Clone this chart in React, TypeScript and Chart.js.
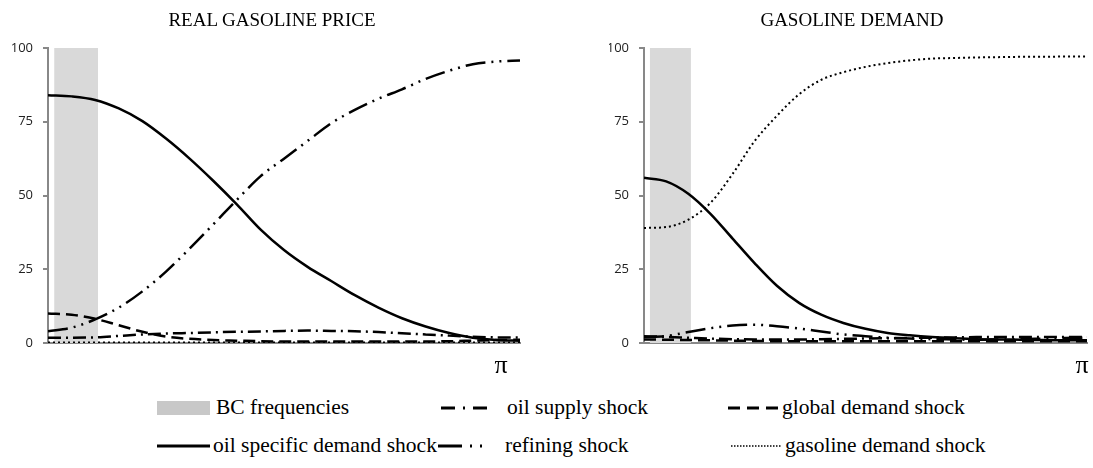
import React, { useEffect, useRef } from "react";
import { Chart, registerables } from "chart.js";

Chart.register(...registerables);

// x positions as fractions of pi (0 .. pi)
const FREQ = [0, 0.05, 0.1, 0.15, 0.2, 0.25, 0.3, 0.35, 0.4, 0.45, 0.5, 0.55, 0.6, 0.65, 0.7, 0.75, 0.8, 0.85, 0.9, 0.95, 1.0];
const BC_BAND = [0.013, 0.106];
const Y_TICKS = [0, 25, 50, 75, 100];

const TITLE_LEFT = "REAL GASOLINE PRICE";
const TITLE_RIGHT = "GASOLINE DEMAND";

// REAL GASOLINE PRICE
const priceOilSupply = [1.8, 1.8, 1.9, 2.4, 2.9, 3.2, 3.4, 3.6, 3.8, 3.9, 4.1, 4.2, 4.1, 4.0, 3.7, 3.3, 2.9, 2.5, 2.1, 1.9, 1.9];
const priceGlobalDemand = [10.0, 9.6, 8.2, 6.0, 3.8, 2.2, 1.4, 1.0, 0.8, 0.6, 0.5, 0.5, 0.5, 0.5, 0.5, 0.5, 0.5, 0.6, 0.8, 1.0, 1.1];
const priceOilSpecific = [84.0, 83.6, 82.4, 79.5, 75.2, 69.3, 62.5, 55.0, 47.0, 38.5, 31.5, 25.8, 21.0, 16.2, 12.0, 8.4, 5.6, 3.4, 1.8, 1.0, 0.8];
const priceRefining = [4.0, 5.2, 8.0, 12.0, 17.5, 24.2, 32.0, 40.2, 48.5, 56.5, 62.5, 68.5, 74.5, 79.0, 82.8, 86.0, 89.5, 92.3, 94.5, 95.4, 95.8];
const priceGasolineDemand = [0.2, 0.2, 0.2, 0.2, 0.2, 0.2, 0.2, 0.2, 0.2, 0.2, 0.2, 0.2, 0.2, 0.2, 0.2, 0.2, 0.2, 0.2, 0.2, 0.2, 0.2];

// GASOLINE DEMAND
const demandOilSupply = [2.3, 2.1, 1.8, 1.5, 1.3, 1.2, 1.2, 1.2, 1.3, 1.4, 1.5, 1.6, 1.7, 1.8, 1.9, 2.0, 2.0, 2.0, 2.0, 2.0, 2.0];
const demandGlobalDemand = [1.2, 1.1, 1.0, 0.9, 0.8, 0.7, 0.6, 0.6, 0.6, 0.6, 0.6, 0.6, 0.6, 0.6, 0.6, 0.6, 0.6, 0.6, 0.6, 0.6, 0.6];
const demandOilSpecific = [56.0, 54.8, 50.6, 43.8, 35.4, 27.0, 19.4, 13.6, 9.6, 6.8, 4.8, 3.4, 2.6, 2.0, 1.6, 1.3, 1.2, 1.1, 1.0, 0.9, 0.9];
const demandRefining = [2.0, 2.4, 3.7, 5.0, 5.9, 6.2, 5.7, 4.9, 3.9, 2.9, 2.3, 1.8, 1.5, 1.3, 1.2, 1.1, 1.2, 1.3, 1.5, 1.7, 1.8];
const demandGasolineDemand = [39.0, 39.3, 41.8, 47.5, 57.3, 68.5, 77.0, 84.3, 89.2, 91.8, 93.6, 94.9, 95.8, 96.4, 96.6, 96.8, 96.9, 97.0, 97.0, 97.1, 97.1];

const SERIES_NAMES = [
  "oil supply shock",
  "global demand shock",
  "oil specific demand shock",
  "refining shock",
  "gasoline demand shock",
];
const BAND_NAME = "BC frequencies";
const DASHES: number[][] = [
  [13, 5, 2, 5],
  [12, 6],
  [],
  [20, 6, 2, 6, 2, 6],
  [2, 3],
];

const AXIS_GRAY = "#888888";
const BAND_GRAY = "#d9d9d9";
const SERIF = "'Liberation Serif', 'Times New Roman', Times, serif";

function pts(ys: number[]) {
  return FREQ.map((x, i) => ({ x, y: ys[i] }));
}

function makeConfig(series: number[][], yWidth: number, padRight: number, piPos: number): any {
  const lineSets = series.map((ys, i) => ({
    label: SERIES_NAMES[i],
    data: pts(ys),
    borderColor: "#000000",
    borderWidth: i === 4 ? 2 : 2.5,
    borderDash: DASHES[i],
    pointRadius: 0,
    fill: false,
    cubicInterpolationMode: "monotone",
    order: 1,
  }));
  const band = {
    label: BAND_NAME,
    data: [
      { x: BC_BAND[0], y: 100 },
      { x: BC_BAND[1], y: 100 },
    ],
    borderWidth: 0,
    borderColor: "rgba(0,0,0,0)",
    backgroundColor: BAND_GRAY,
    pointRadius: 0,
    fill: "origin",
    tension: 0,
    order: 100,
  };
  return {
    type: "line",
    data: { datasets: [band, ...lineSets] },
    options: {
      responsive: false,
      animation: false,
      layout: { padding: { left: 0, right: padRight, top: 48, bottom: 0 } },
      plugins: {
        legend: { display: false },
        tooltip: { enabled: false },
        title: { display: false },
      },
      scales: {
        x: {
          type: "linear",
          min: 0,
          max: 1,
          grid: { display: false },
          border: { display: true, color: AXIS_GRAY, width: 2 },
          afterBuildTicks: (scale: any) => {
            scale.ticks = [{ value: piPos }];
          },
          afterFit: (scale: any) => {
            scale.height = 37;
          },
          ticks: {
            autoSkip: false,
            maxRotation: 0,
            padding: 0,
            color: "#000000",
            font: { family: SERIF, size: 26 },
            callback: () => "π",
          },
        },
        y: {
          min: 0,
          max: 100,
          afterBuildTicks: (scale: any) => {
            scale.ticks = Y_TICKS.map((v) => ({ value: v }));
          },
          afterFit: (scale: any) => {
            scale.width = yWidth;
          },
          grid: {
            display: true,
            drawOnChartArea: false,
            drawTicks: true,
            tickLength: 5,
            color: AXIS_GRAY,
            lineWidth: 2,
          },
          border: { display: true, color: AXIS_GRAY, width: 2 },
          ticks: {
            padding: 10,
            color: "#222222",
            font: { family: "'Open Sans', 'Noto Sans', sans-serif", size: 13 },
          },
        },
      },
    },
  };
}

function ChartBox(props: { config: any; left: number; width: number; height: number }) {
  const ref = useRef<HTMLCanvasElement | null>(null);
  useEffect(() => {
    if (!ref.current) return;
    const chart = new Chart(ref.current, props.config);
    return () => chart.destroy();
  }, []);
  return (
    <canvas
      ref={ref}
      width={props.width}
      height={props.height}
      style={{ position: "absolute", left: props.left, top: 0, width: props.width, height: props.height }}
    />
  );
}

const legendFont: React.CSSProperties = {
  position: "absolute",
  fontFamily: SERIF,
  fontSize: 21.5,
  color: "#000",
  whiteSpace: "nowrap",
  lineHeight: "22px",
};

const titleFont: React.CSSProperties = {
  position: "absolute",
  top: 9,
  fontFamily: SERIF,
  fontSize: 19,
  lineHeight: "22px",
  color: "#000",
  whiteSpace: "nowrap",
  textAlign: "center",
  width: 400,
};

function Sample(props: { left: number; top: number; width: number; dash?: string; band?: boolean; sw?: number }) {
  if (props.band) {
    return (
      <div
        style={{ position: "absolute", left: props.left, top: props.top - 7, width: props.width, height: 14, background: "#c8c8c8" }}
      />
    );
  }
  return (
    <svg style={{ position: "absolute", left: props.left, top: props.top - 5 }} width={props.width} height={10}>
      <line x1={0} y1={5} x2={props.width} y2={5} stroke="#000" strokeWidth={props.sw || 3} strokeDasharray={props.dash || "none"} />
    </svg>
  );
}

export default function App() {
  const leftCfg = makeConfig(
    [priceOilSupply, priceGlobalDemand, priceOilSpecific, priceRefining, priceGasolineDemand],
    48,
    26,
    0.96
  );
  const rightCfg = makeConfig(
    [demandOilSupply, demandGlobalDemand, demandOilSpecific, demandRefining, demandGasolineDemand],
    35,
    6,
    0.989
  );
  const r1 = 408;
  const r2 = 446;
  const lt = 12;
  return (
    <div style={{ position: "fixed", left: 0, top: 0, width: 1093, height: 468, background: "#fff", overflow: "hidden" }}>
      <ChartBox config={leftCfg} left={0} width={546} height={380} />
      <ChartBox config={rightCfg} left={609} width={484} height={380} />
      <div style={{ ...titleFont, left: 272 - 200 }}>{TITLE_LEFT}</div>
      <div style={{ ...titleFont, left: 852 - 200 }}>{TITLE_RIGHT}</div>

      <Sample left={157} top={r1} width={53} band />
      <div style={{ ...legendFont, left: 216, top: r1 - lt }}>{BAND_NAME}</div>

      <Sample left={441} top={r1} width={58} dash="14 8 2 8 14" />
      <div style={{ ...legendFont, left: 507, top: r1 - lt }}>{SERIES_NAMES[0]}</div>

      <Sample left={728} top={r1} width={54} dash="12 7" />
      <div style={{ ...legendFont, left: 782, top: r1 - lt }}>{SERIES_NAMES[1]}</div>

      <Sample left={157} top={r2} width={53} />
      <div style={{ ...legendFont, left: 213, top: r2 - lt }}>{SERIES_NAMES[2]}</div>

      <Sample left={438} top={r2} width={44} dash="24 8 2 8 2 30" />
      <div style={{ ...legendFont, left: 505, top: r2 - lt }}>{SERIES_NAMES[3]}</div>

      <Sample left={731} top={r2} width={51} dash="1.5 1.5" sw={1.5} />
      <div style={{ ...legendFont, left: 785, top: r2 - lt }}>{SERIES_NAMES[4]}</div>
    </div>
  );
}
